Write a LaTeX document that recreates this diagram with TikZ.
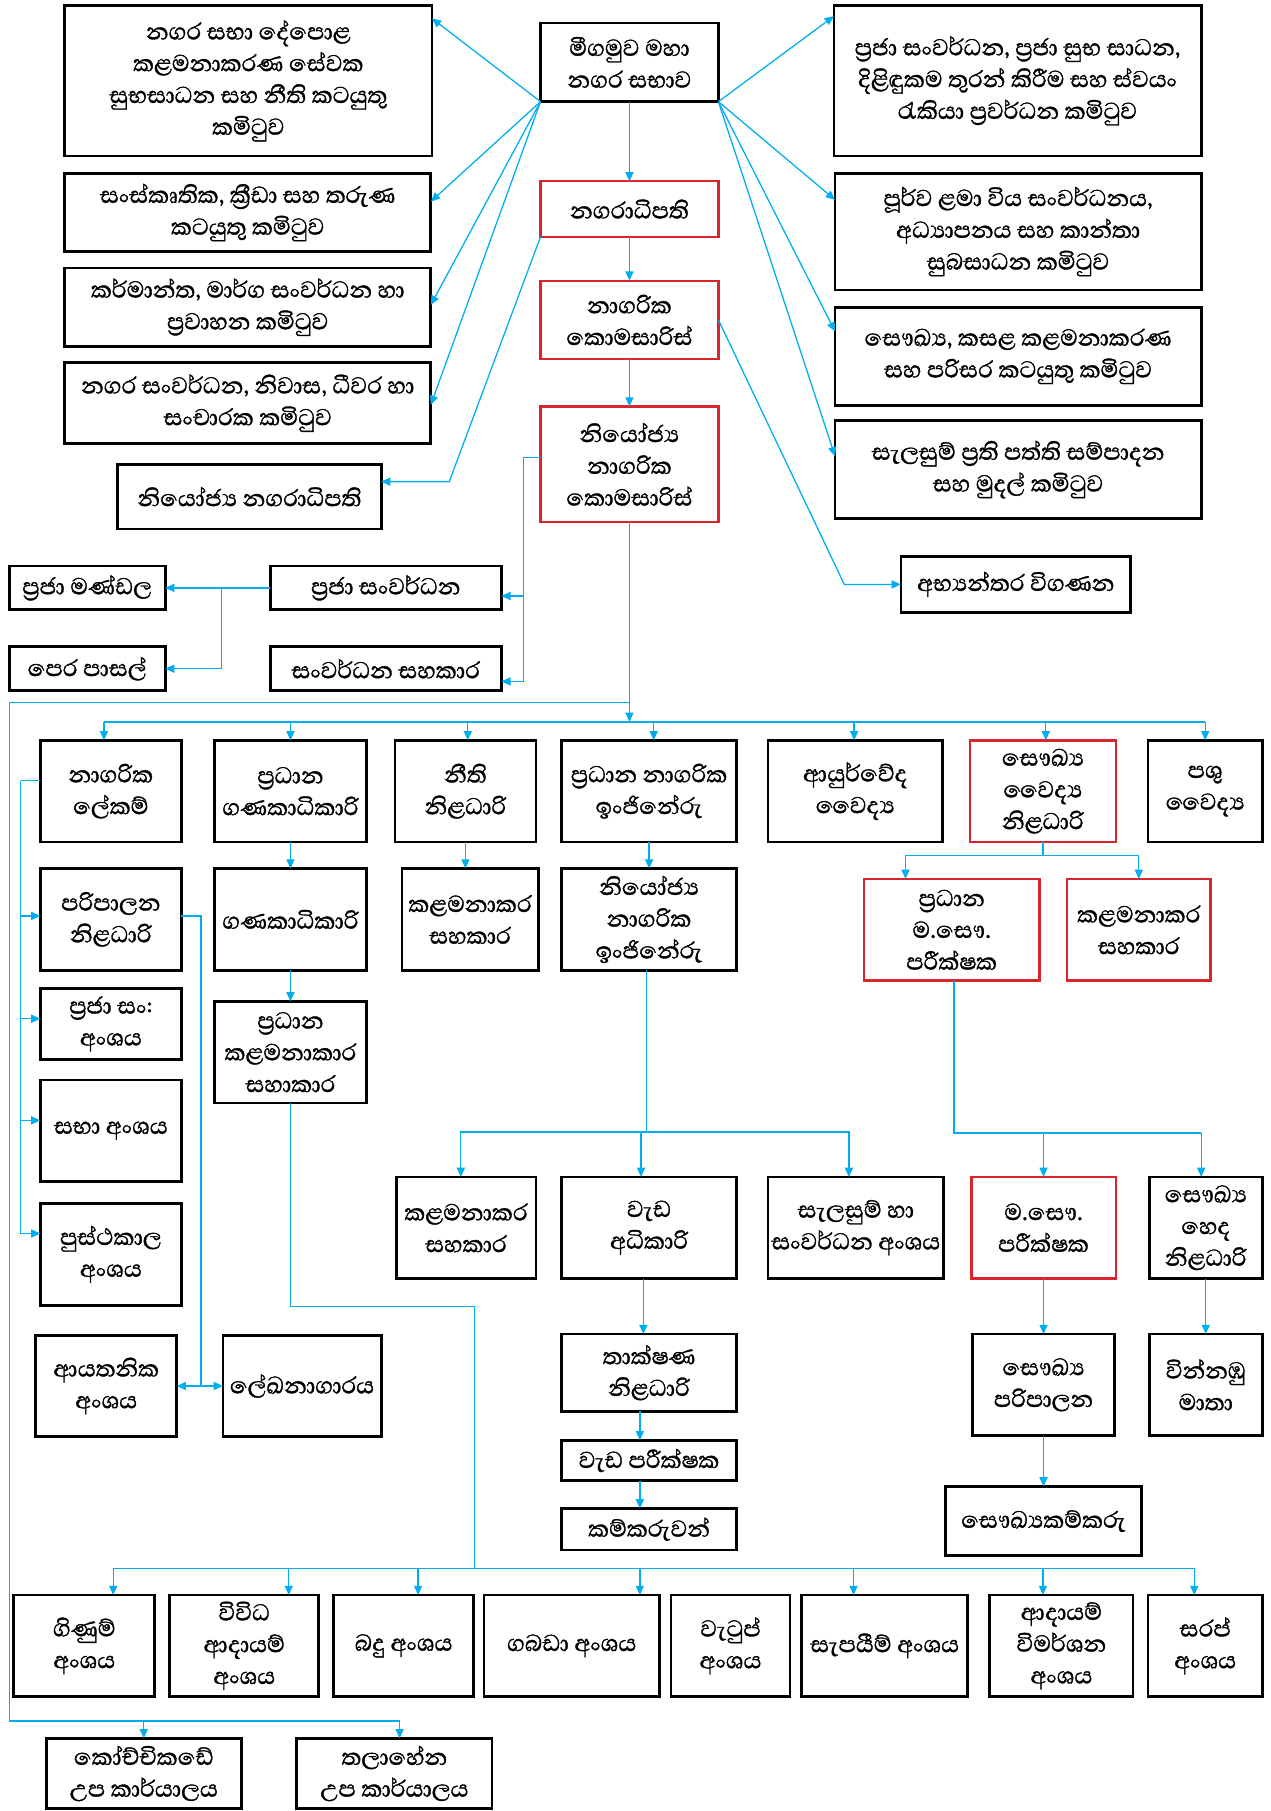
\documentclass[tikz,border=0pt]{standalone}
\usepackage{fontspec}
\newfontfamily\sinhala[Script=Sinhala,FakeBold=1.2]{Abhaya Libre}
\usepackage{tikz}
\usetikzlibrary{arrows.meta,positioning}
\usetikzlibrary{calc}
\definecolor{irapata}{RGB}{0,174,239}
\definecolor{rathu}{RGB}{218,37,44}
\tikzset{
	%Define standard arrow tip
	>={Triangle[length=8pt,width=7pt]},
	%Define style for boxes
	kotuwa/.style={
		rectangle,
		draw=black, line width=2.4pt,
		outer sep=0pt, inner sep=2pt,
		align=center,
		font=\sinhala\fontsize{25.5}{27.5}\selectfont},
	rathukotuwa/.style={kotuwa, draw=rathu, line width=2pt},
	% size of a box
	sz/.style 2 args={minimum width=#1pt, minimum height=#2pt},
	% Define line and arrow style
	ira/.style={draw=irapata, line width=1.1pt},
	pil/.style={->, ira},
}
\begin{document}
\begin{tikzpicture}[x=1pt,y=-1pt]
		\useasboundingbox (0,0) rectangle (1100,1568);
		% node council
		\node[kotuwa, sz={154}{68}] (sabhawa) at (545,54) {මීගමුව මහා\\නගර සභාව};
		% node mayor
		\node[rathukotuwa, sz={154}{48}, below=69pt of sabhawa] (nagaradhi) {නගරාධිපති};
		% node commissioner
		\node[rathukotuwa, sz={154}{68}, below=38pt of nagaradhi] (komasaris) {නාගරික\\කොමසාරිස්};
		% node deputy commissioner
		\node[rathukotuwa, sz={154}{100}, below=41pt of komasaris] (nkomasaris) {නියෝජ්‍ය\\නාගරික\\කොමසාරිස්};
		% nodes committees, left
		\node[kotuwa, sz={318}{130}] (kam1) at (215,70) {නගර සභා දේපොළ\\කළමනාකරණ සේවක\\සුභසාධන සහ නීති කටයුතු\\කමිටුව};
		\node[kotuwa, sz={317}{68}] (kam2) at (214.5,184) {සංස්කෘතික, ක්‍රීඩා සහ තරුණ\\කටයුතු කමිටුව};
		\node[kotuwa, sz={317}{68}] (kam3) at (214.5,266) {කර්මාන්ත, මාර්ග සංවර්ධන හා\\ප්‍රවාහන කමිටුව};
		\node[kotuwa, sz={317}{70}] (kam4) at (214.5,349) {නගර සංවර්ධන, නිවාස, ධීවර හා\\සංචාරක කමිටුව};
		% node deputy mayor
		\node[kotuwa, sz={228}{56}] (nnagar) at (216,430) {නියෝජ්‍ය නගරාධිපති};
		% nodes committees, right
		\node[kotuwa, sz={318}{130}] (kam5) at (881,70) {ප්‍රජා සංවර්ධන, ප්‍රජා සුභ සාධන,\\දිළිඳුකම තුරන් කිරීම සහ ස්වයං\\රැකියා ප්‍රවර්ධන කමිටුව};
		\node[kotuwa, sz={317}{101}] (kam6) at (881.5,200.5) {පූර්ව ළමා විය සංවර්ධනය,\\අධ්‍යාපනය සහ කාන්තා\\සුබසාධන කමිටුව};
		\node[kotuwa, sz={317}{85}] (kam7) at (881.5,308.5) {සෞඛ්‍ය, කසළ කළමනාකරණ\\සහ පරිසර කටයුතු කමිටුව};
		\node[kotuwa, sz={317}{85}] (kam8) at (881.5,406.5) {සැලසුම් ප්‍රති පත්ති සම්පාදන\\සහ මුදල් කමිටුව};
		% node audit
		\node[kotuwa, sz={199}{48}] (vigana) at (879.5,506) {අභ්‍යන්තර විගණන};
		% nodes community development
		\node[kotuwa, sz={200}{38}] (prajasan) at (334,509) {ප්‍රජා සංවර්ධන};
		\node[kotuwa, sz={200}{38}] (sanwsah) at (334,579) {සංවර්ධන සහකාර};
		\node[kotuwa, sz={135}{38}] (prajaman) at (75.5,509) {ප්‍රජා මණ්ඩල};
		\node[kotuwa, sz={135}{38}] (perapas) at (75.5,579) {පෙර පාසල්};
		% nodes heads of departments
		\node[kotuwa, sz={122}{88}] (lekam) at (96,685) {නාගරික\\ලේකම්};
		\node[kotuwa, sz={131}{88}] (pgana) at (251.5,685) {ප්‍රධාන\\ගණකාධිකාරි};
		\node[kotuwa, sz={122}{88}] (neethi) at (403,685) {නීති\\නිළධාරි};
		\node[kotuwa, sz={152}{88}] (peng) at (562,685) {ප්‍රධාන නාගරික\\ඉංජිනේරු};
		\node[kotuwa, sz={151}{88}] (ayur) at (740.5,685) {ආයුර්වේද\\වෛද්‍ය};
		\node[rathukotuwa, sz={126}{88}] (moh) at (903,685) {සෞඛ්‍ය\\වෛද්‍ය\\නිළධාරි};
		\node[kotuwa, sz={99}{88}] (pashu) at (1043.5,685) {පශු\\වෛද්‍ය};
		% nodes secretary's branches
		\node[kotuwa, sz={122}{88}] (paripalana) at (96,796) {පරිපාලන\\නිළධාරි};
		\node[kotuwa, sz={122}{61}] (prajasang) at (96,886.5) {ප්‍රජා සං:\\අංශය};
		\node[kotuwa, sz={122}{88}] (sabha) at (96,979) {සභා අංශය};
		\node[kotuwa, sz={122}{88}] (pusthaka) at (96,1086) {පුස්ථකාල\\අංශය};
		\node[kotuwa, sz={122}{88}] (ayathanika) at (92,1200) {ආයතනික\\අංශය};
		\node[kotuwa, sz={137}{88}] (lekhana) at (261.5,1200) {ලේඛනාගාරය};
		% nodes accounts
		\node[kotuwa, sz={131}{88}, below=23pt of pgana] (gana) {ගණකාධිකාරි};
		\node[kotuwa, sz={131}{88}, below=27pt of gana] (pkalsah) {ප්‍රධාන\\කළමනාකාර\\සහාකාර};
		% node legal
		\node[kotuwa, sz={118}{88}] (kalsah1) at (407,796) {කළමනාකර\\සහකාර};
		% nodes engineering
		\node[kotuwa, sz={152}{88}] (deng) at (562,796) {නියෝජ්‍ය\\නාගරික\\ඉංජිනේරු};
		\node[kotuwa, sz={121}{88}] (kalsah3) at (403.5,1063) {කළමනාකර\\සහකාර};
		\node[kotuwa, sz={152}{88}] (wadadhi) at (562,1063) {වැඩ\\අධිකාරි};
		\node[kotuwa, sz={152}{88}] (salasum) at (741,1063) {සැලසුම් හා\\සංවර්ධන අංශය};
		\node[kotuwa, sz={152}{67}, below=48pt of wadadhi] (thak) {තාක්ෂණ\\නිළධාරි};
		\node[kotuwa, sz={152}{35}, below=25pt of thak] (wadapar) {වැඩ පරීක්ෂක};
		\node[kotuwa, sz={152}{36}, below=24pt of wadapar] (kamkaru) {කම්කරුවන්};
		% nodes health
		\node[rathukotuwa, sz={152}{88}] (pphi) at (824,805) {ප්‍රධාන\\ම.සෞ.\\පරීක්ෂක};
		\node[rathukotuwa, sz={124}{88}] (kalsah2) at (986,805) {කළමනාකර\\සහකාර};
		\node[rathukotuwa, sz={125}{88}] (phi) at (903.5,1063) {ම.සෞ.\\පරීක්ෂක};
		\node[kotuwa, sz={98}{88}] (heda) at (1044,1063) {සෞඛ්‍ය\\හෙද\\නිළධාරි};
		\node[kotuwa, sz={123}{88}, below=48pt of phi] (saupari) {සෞඛ්‍ය\\පරිපාලන};
		\node[kotuwa, sz={98}{88}, below=48pt of heda] (vinnabu) {වින්නඹු\\මාතා};
		\node[kotuwa, sz={170}{60}, below=44pt of saupari] (saukam) {සෞඛ්‍යකම්කරු};
		% nodes revenue sections
		\node[kotuwa, sz={122}{88}] (ginum) at (73,1425) {ගිණුම්\\අංශය};
		\node[kotuwa, sz={129}{88}] (vividha) at (211.5,1425) {විවිධ\\ආදායම්\\අංශය};
		\node[kotuwa, sz={121}{88}] (badu) at (349.5,1425) {බදු අංශය};
		\node[kotuwa, sz={152}{88}] (gabada) at (495,1425) {ගබඩා අංශය};
		\node[kotuwa, sz={103}{88}] (watup) at (632.5,1425) {වැටුප්\\අංශය};
		\node[kotuwa, sz={144}{88}] (sapayim) at (766,1425) {සැපයීම් අංශය};
		\node[kotuwa, sz={124}{88}] (adayam) at (919,1425) {ආදායම්\\විමර්ශන\\අංශය};
		\node[kotuwa, sz={99}{88}] (sarap) at (1043.5,1425) {සරප්\\අංශය};
		% nodes sub offices
		\node[kotuwa, sz={169}{61}] (kochchi) at (124.5,1535.5) {කෝච්චිකඩේ\\උප කාර්යාලය};
		\node[kotuwa, sz={169}{61}] (thala) at (341.5,1535.5) {තලාහේන\\උප කාර්යාලය};
		% bends
		\coordinate (nnbend) at (389,417);
		\coordinate (vgbend) at (731,506);
		\coordinate (nkbend) at (453,396);
		\coordinate (pjbend) at (192,509);
		\coordinate (bus) at (545,625);
		\coordinate (lftop) at (8,608);
		\coordinate (lbus) at (8,1490);
		\coordinate (lcol) at (18,676);
		\coordinate (pbr) at (174,1200);
		\coordinate (pkb) at (251.5,1131);
		\coordinate (bbus) at (411,1358);
		\coordinate (dengb) at (560,980);
		\coordinate (pphib) at (826,981);
		% council to committees
		\foreach \k/\s in {kam1/54, kam2/9.5, kam3/2, kam4/-1.5}
			\draw[pil] (sabhawa.south west) -- ([yshift=\s pt]\k.east);
		\foreach \k/\s in {kam5/56, kam6/27.5, kam7/21.5, kam8/11.5}
			\draw[pil] (sabhawa.south east) -- ([yshift=\s pt]\k.west);
		\draw[pil] (nagaradhi.south west) -- (nnbend) -- (nnbend -| nnagar.east);
		\draw[pil] (komasaris.east) -- (vgbend) -- (vigana.west);
		% centre column
		\draw[pil] (sabhawa) -- (nagaradhi);
		\draw[pil] (nagaradhi) -- (komasaris);
		\draw[pil] (komasaris) -- (nkomasaris);
		\draw[pil] (nkbend -| nkomasaris.west) -- (nkbend) |- ([yshift=-7pt]prajasan.east);
		\draw[pil] (nkbend) |- ([yshift=-11pt]sanwsah.east);
		\draw[pil] (prajasan.west) -- (prajaman.east);
		\draw[pil] (pjbend) |- (perapas.east);
		% main bus
		\draw[pil] (nkomasaris.south) -- (bus);
		\draw[ira] ([xshift=-6pt]lekam.north |- bus) -- (pashu.north |- bus);
		\foreach \n/\s in {lekam/-6, pgana/0, neethi/2, peng/4, ayur/-1, moh/2.5, pashu/0}
			\draw[pil] ([xshift=\s pt]\n.north |- bus) -- ([xshift=\s pt]\n.north);
		% sub offices
		\draw[ira] (nkomasaris.south |- lftop) -- (lftop) -- (lbus) -- ([xshift=4.5pt]thala.north |- lbus);
		\draw[pil] (kochchi.north |- lbus) -- (kochchi.north);
		\draw[pil] ([xshift=4.5pt]thala.north |- lbus) -- ([xshift=4.5pt]thala.north);
		% secretary
		\draw[ira] ([yshift=9pt]lekam.west) -- (lcol);
		\foreach \n/\s in {paripalana/3, prajasang/4.5, sabha/9, pusthaka/18}
			\draw[pil] (lcol) |- ([yshift=\s pt]\n.west);
		\draw[ira] ([yshift=3pt]paripalana.east) -| (pbr);
		\draw[pil] (pbr) -- (ayathanika.east);
		\draw[pil] (pbr) -- (lekhana.west);
		% accounts
		\draw[pil] (pgana) -- (gana);
		\draw[pil] (gana) -- (pkalsah);
		\draw[ira] (pkalsah.south) -- (pkb) -| (bbus);
		\draw[ira] ([xshift=25pt]ginum.north |- bbus) -- ([xshift=-9.5pt]sarap.north |- bbus);
		\foreach \n/\s in {ginum/25, vividha/38.5, badu/12.5, gabada/59, sapayim/-27, adayam/-16, sarap/-9.5}
			\draw[pil] ([xshift=\s pt]\n.north |- bbus) -- ([xshift=\s pt]\n.north);
		% legal
		\draw[pil] (neethi.south) -- (neethi.south |- kalsah1.north);
		% engineering
		\draw[pil] (peng) -- (deng);
		\draw[ira] ([xshift=-2pt]deng.south) -- (dengb);
		\foreach \n/\s in {kalsah3/-4.5, wadadhi/-7, salasum/-6}
			\draw[pil] (dengb) -| ([xshift=\s pt]\n.north);
		\draw[pil] ([xshift=-5pt]wadadhi.south) -- ([xshift=-5pt]thak.north);
		\draw[pil] ([xshift=-8pt]thak.south) -- ([xshift=-8pt]wadapar.north);
		\draw[pil] ([xshift=-8pt]wadapar.south) -- ([xshift=-8pt]kamkaru.north);
		% health
		\draw[ira] (moh.south) -- ++(0,12) coordinate (mohb);
		\draw[pil] (mohb) -| ([xshift=-40pt]pphi.north);
		\draw[pil] (mohb) -| (kalsah2.north);
		\draw[ira] (pphi.south -| pphib) -- (pphib) -- ([xshift=-4pt]heda.north |- pphib);
		\draw[pil] (phi.north |- pphib) -- (phi.north);
		\draw[pil] ([xshift=-4pt]heda.north |- pphib) -- ([xshift=-4pt]heda.north);
		\draw[pil] (phi) -- (saupari);
		\draw[pil] (saupari.south) -- (saupari.south |- saukam.north);
		\draw[pil] (heda) -- (vinnabu);
	\end{tikzpicture}
\end{document}
